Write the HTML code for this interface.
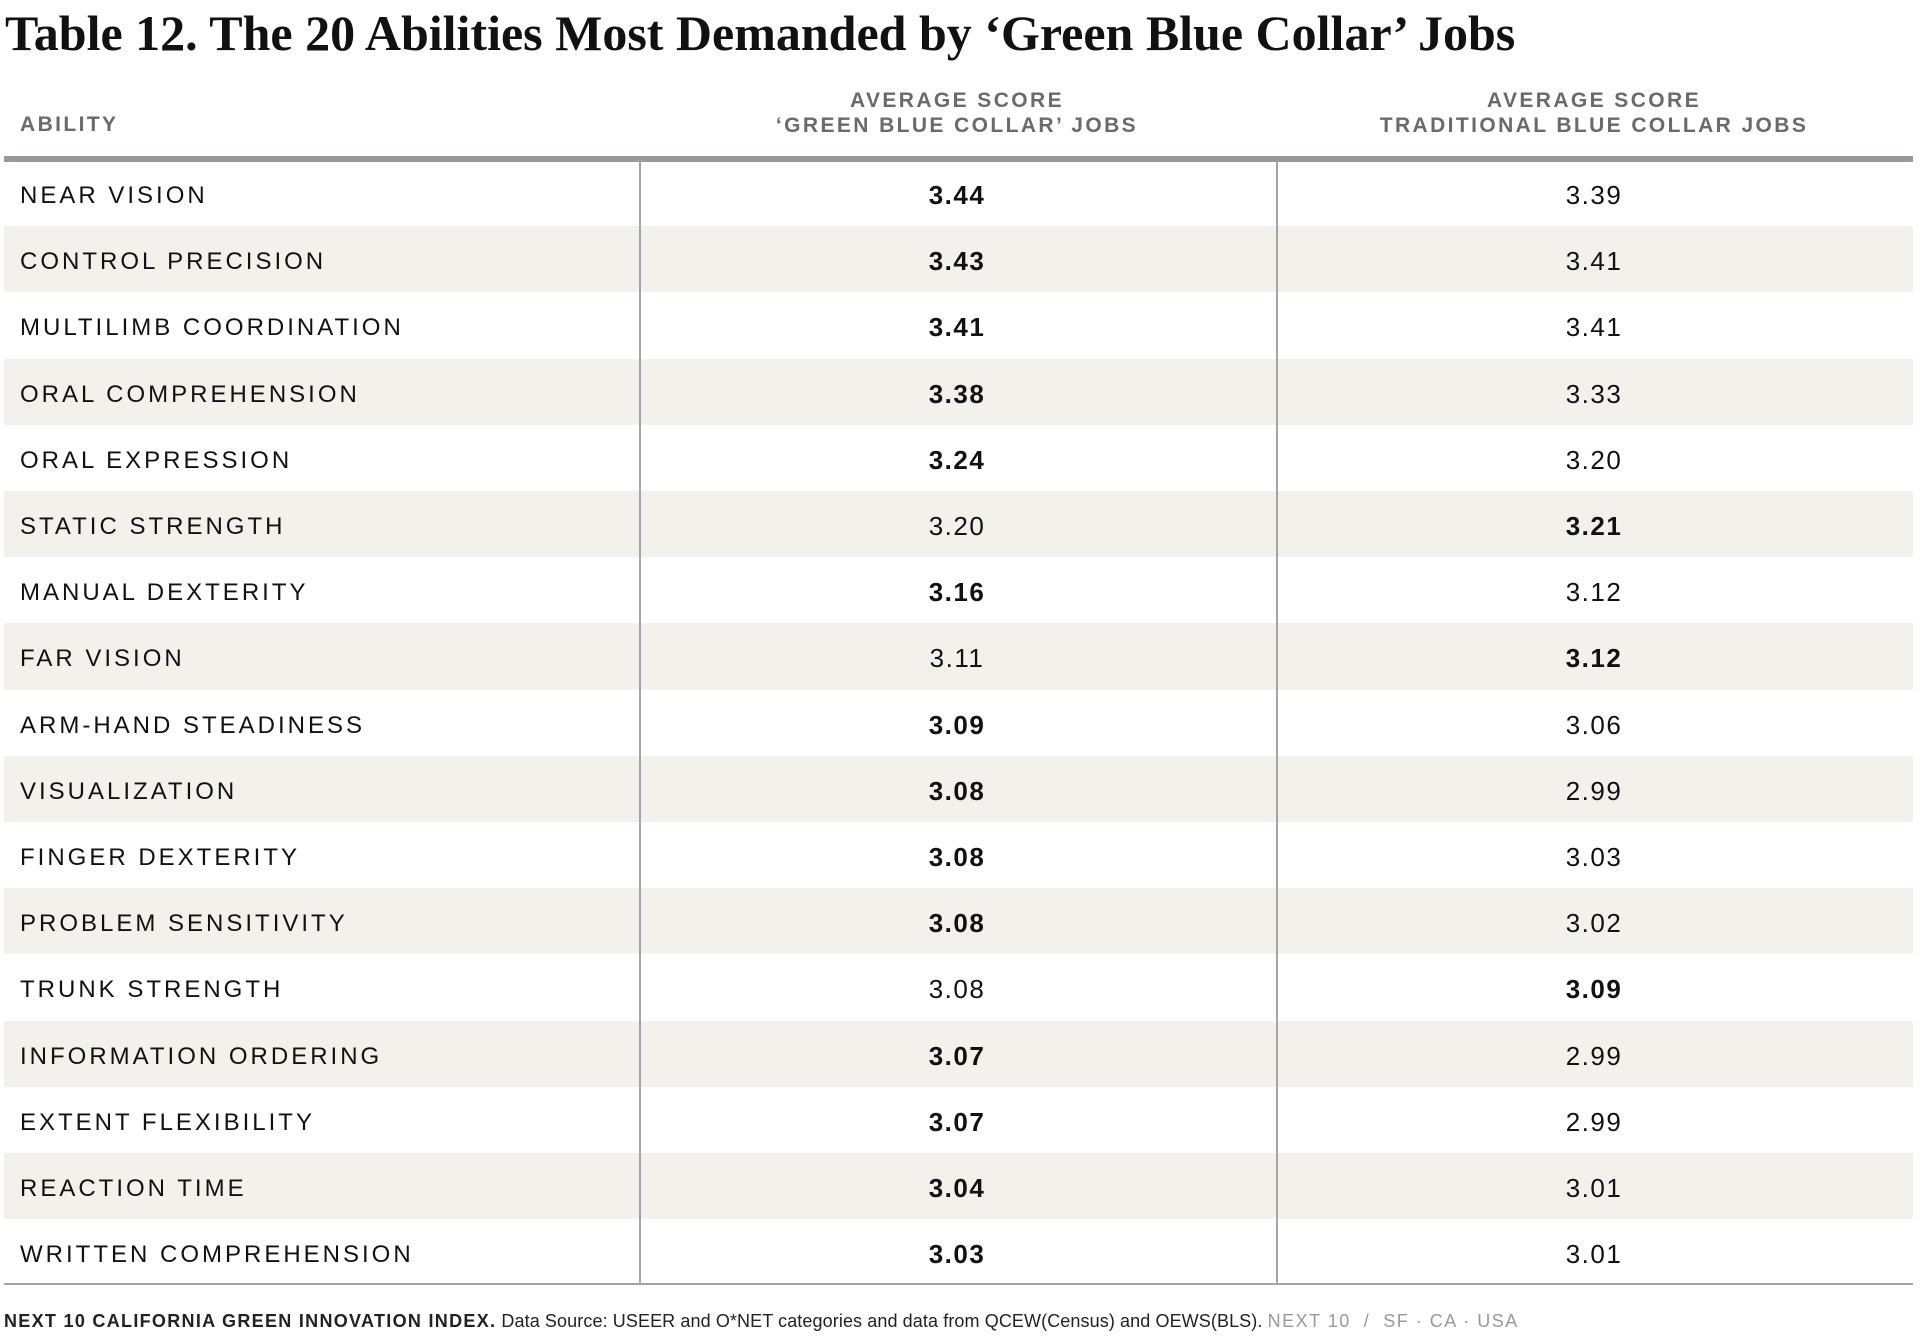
<!DOCTYPE html>
<html><head><meta charset="utf-8"><style>
body{margin:0;width:1920px;height:1337px;background:#fff;position:relative;overflow:hidden;font-family:"Liberation Sans",sans-serif;}
.title{position:absolute;left:5px;top:4px;font-family:"Liberation Serif",serif;font-weight:bold;font-size:50px;color:#111;white-space:nowrap;}
.h{position:absolute;color:#6a6a6a;font-weight:bold;font-size:21px;letter-spacing:2.4px;line-height:25px;text-align:center;white-space:nowrap;}
.thick{position:absolute;left:4px;width:1909px;top:156px;height:6px;background:#97989c;}
.row{position:absolute;left:4px;width:1909px;height:66.2px;}
.row.s{background:#f3f1ec;}
.row span{position:absolute;top:3px;line-height:66px;font-size:24px;color:#111;letter-spacing:3px;white-space:nowrap;}
.row .a{left:16px;}
.row .b{left:953px;width:0;top:2px;}
.row .c{left:1590px;width:0;top:2px;}
.row .b i,.row .c i{font-style:normal;position:absolute;left:-70px;width:140px;text-align:center;letter-spacing:1.5px;font-size:26px;}
.bold{font-weight:bold;}
.v{position:absolute;top:162px;height:1122px;width:2px;background:#a5a5a5;}
.bot{position:absolute;left:4px;width:1909px;top:1283px;height:2px;background:#a5a5a5;}
.foot{position:absolute;left:4px;top:1311px;font-size:18px;color:#222;white-space:nowrap;letter-spacing:0.1px;}
</style></head><body>
<div class="title">Table 12. The 20 Abilities Most Demanded by ‘Green Blue Collar’ Jobs</div>
<div class="h" style="left:20px;top:112px;text-align:left;">ABILITY</div>
<div class="h" style="left:957px;width:700px;margin-left:-350px;top:88px;">AVERAGE SCORE<br>‘GREEN BLUE COLLAR’ JOBS</div>
<div class="h" style="left:1594px;width:700px;margin-left:-350px;top:88px;">AVERAGE SCORE<br>TRADITIONAL BLUE COLLAR JOBS</div>
<div class="thick"></div>
<div class="row" style="top:160px"><span class="a">NEAR VISION</span><span class="b"><i class="bold">3.44</i></span><span class="c"><i>3.39</i></span></div>
<div class="row s" style="top:226.2px"><span class="a">CONTROL PRECISION</span><span class="b"><i class="bold">3.43</i></span><span class="c"><i>3.41</i></span></div>
<div class="row" style="top:292.4px"><span class="a">MULTILIMB COORDINATION</span><span class="b"><i class="bold">3.41</i></span><span class="c"><i>3.41</i></span></div>
<div class="row s" style="top:358.6px"><span class="a">ORAL COMPREHENSION</span><span class="b"><i class="bold">3.38</i></span><span class="c"><i>3.33</i></span></div>
<div class="row" style="top:424.8px"><span class="a">ORAL EXPRESSION</span><span class="b"><i class="bold">3.24</i></span><span class="c"><i>3.20</i></span></div>
<div class="row s" style="top:491px"><span class="a">STATIC STRENGTH</span><span class="b"><i>3.20</i></span><span class="c"><i class="bold">3.21</i></span></div>
<div class="row" style="top:557.2px"><span class="a">MANUAL DEXTERITY</span><span class="b"><i class="bold">3.16</i></span><span class="c"><i>3.12</i></span></div>
<div class="row s" style="top:623.4px"><span class="a">FAR VISION</span><span class="b"><i>3.11</i></span><span class="c"><i class="bold">3.12</i></span></div>
<div class="row" style="top:689.6px"><span class="a">ARM-HAND STEADINESS</span><span class="b"><i class="bold">3.09</i></span><span class="c"><i>3.06</i></span></div>
<div class="row s" style="top:755.8px"><span class="a">VISUALIZATION</span><span class="b"><i class="bold">3.08</i></span><span class="c"><i>2.99</i></span></div>
<div class="row" style="top:822px"><span class="a">FINGER DEXTERITY</span><span class="b"><i class="bold">3.08</i></span><span class="c"><i>3.03</i></span></div>
<div class="row s" style="top:888.2px"><span class="a">PROBLEM SENSITIVITY</span><span class="b"><i class="bold">3.08</i></span><span class="c"><i>3.02</i></span></div>
<div class="row" style="top:954.4px"><span class="a">TRUNK STRENGTH</span><span class="b"><i>3.08</i></span><span class="c"><i class="bold">3.09</i></span></div>
<div class="row s" style="top:1020.6px"><span class="a">INFORMATION ORDERING</span><span class="b"><i class="bold">3.07</i></span><span class="c"><i>2.99</i></span></div>
<div class="row" style="top:1086.8px"><span class="a">EXTENT FLEXIBILITY</span><span class="b"><i class="bold">3.07</i></span><span class="c"><i>2.99</i></span></div>
<div class="row s" style="top:1153px"><span class="a">REACTION TIME</span><span class="b"><i class="bold">3.04</i></span><span class="c"><i>3.01</i></span></div>
<div class="row" style="top:1219.2px"><span class="a">WRITTEN COMPREHENSION</span><span class="b"><i class="bold">3.03</i></span><span class="c"><i>3.01</i></span></div>
<div class="v" style="left:639px"></div>
<div class="v" style="left:1276px"></div>
<div class="bot"></div>
<div class="foot"><b style="letter-spacing:1.3px">NEXT 10 CALIFORNIA GREEN INNOVATION INDEX.</b> Data Source: USEER and O*NET categories and data from QCEW(Census) and OEWS(BLS). <span style="color:#999;letter-spacing:1.5px">NEXT 10 &nbsp;/ &nbsp;SF · CA · USA</span></div>
</body></html>
